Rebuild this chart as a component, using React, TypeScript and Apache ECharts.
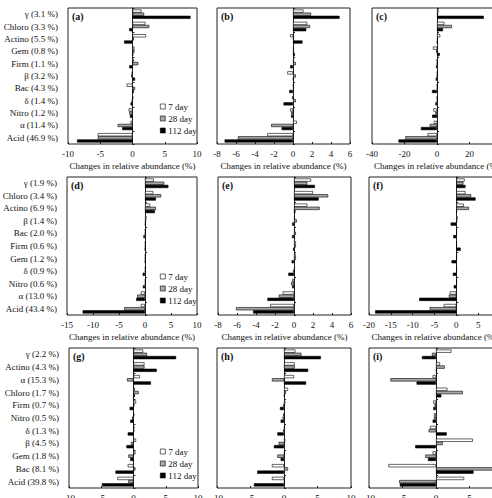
import React, { useEffect, useRef } from 'react';
import * as echarts from 'echarts';

const row1Cats = ['γ (3.1 %)', 'Chloro (3.3 %)', 'Actino (5.5 %)', 'Gem (0.8 %)', 'Firm (1.1 %)', 'β (3.2 %)', 'Bac (4.3 %)', 'δ (1.4 %)', 'Nitro (1.2 %)', 'α (11.4 %)', 'Acid (46.9 %)'];
const row2Cats = ['γ (1.9 %)', 'Chloro (3.4 %)', 'Actino (6.9 %)', 'β (1.4 %)', 'Bac (2.0 %)', 'Firm (0.6 %)', 'Gem (1.2 %)', 'δ (0.9 %)', 'Nitro (0.6 %)', 'α (13.0 %)', 'Acid (43.4 %)'];
const row3Cats = ['γ (2.2 %)', 'Actino (4.3 %)', 'α (15.3 %)', 'Chloro (1.7 %)', 'Firm (0.7 %)', 'Nitro (0.5 %)', 'δ (1.3 %)', 'β (4.5 %)', 'Gem (1.8 %)', 'Bac (8.1 %)', 'Acid (39.8 %)'];

const seriesNames = ['7 day', '28 day', '112 day'];
const panelLabels = ['(a)', '(b)', '(c)', '(d)', '(e)', '(f)', '(g)', '(h)', '(i)'];
const axisTitle = 'Changes in relative abundance (%)';

// x-axis ranges [min, max, interval]
const xRanges = [
  [-10, 10, 5], [-8, 6, 2], [-40, 40, 20],
  [-15, 10, 5], [-8, 6, 2], [-20, 10, 5],
  [-10, 10, 5], [-10, 10, 5], [-10, 10, 5],
];

// panel (a)
const a7 = [1.4, 2.0, 2.1, 0.3, 0.2, -0.1, -0.9, 0.1, -0.6, -0.3, -5.4];
const a28 = [1.8, 2.6, 0.2, 0.3, 0.9, -0.2, 0.4, -0.1, -0.5, -2.3, -5.4];
const a112 = [9.0, -0.5, -1.3, 0.1, -0.5, 0.4, 0.2, -0.3, -0.4, -1.6, -8.6];
// panel (b)
const b7 = [1.1, 1.5, -0.3, 0.1, 0.1, -0.6, 0.05, -0.1, -0.3, 0.4, -2.7];
const b28 = [1.9, 1.8, 0.1, 0.1, 0.3, 0.3, 0.1, 0.3, -0.2, -2.3, -5.8];
const b112 = [4.9, 1.4, 1.0, 0.2, -0.3, 0.05, -0.4, -1.0, -0.2, -1.2, -7.2];
// panel (c)
const c7 = [1.0, 4.5, 2.0, -2.5, 0.2, 0.3, 0.2, 0.2, -2.3, -2.0, -5.8];
const c28 = [0.5, 9.2, 0.5, -0.5, 0.2, 0.2, 0.3, 0.2, -1.0, -4.5, -19.5];
const c112 = [28.8, 3.7, 0.2, 1.7, -0.6, -0.8, -3.1, -1.0, -3.0, -9.9, -23.7];
// panel (d)
const d7 = [1.7, 1.6, 1.0, 0.3, 0.1, 0.1, 0.1, 0.1, 0.1, -0.8, -0.8];
const d28 = [3.7, 3.1, 2.1, 0.2, 0.1, 0.1, 0.1, 0.1, 0.1, -1.5, -4.0];
const d112 = [4.5, 2.1, 1.9, 0.1, -0.3, 0.05, 0.05, -0.45, -0.4, -1.7, -12.0];
// panel (e)
const e7 = [1.8, 2.0, 1.4, 0.1, 0.1, 0.2, 0.2, 0.1, -0.2, -1.2, -2.5];
const e28 = [1.4, 3.6, 2.7, 0.3, 0.2, 0.2, 0.2, -0.1, -0.3, -1.6, -6.1];
const e112 = [2.2, 2.6, 0.15, -0.2, -0.2, -0.1, -0.25, -0.6, -0.2, -2.8, -4.3];
// panel (f)
const f7 = [1.9, 2.1, 1.7, 0.3, 0.1, 0.1, 0.1, 0.1, 0.1, -1.5, -2.9];
const f28 = [1.6, 3.4, 2.9, 0.2, 0.1, 0.1, 0.1, 0.1, 0.1, -1.7, -6.1];
const f112 = [2.1, 4.4, 0.1, -1.3, -0.7, 1.0, -1.1, -0.8, -0.6, -8.5, -18.6];
// panel (g)
const g7 = [1.5, 1.7, 1.0, 0.2, 0.4, 0.1, 0.1, 0.4, 0.3, -0.9, -2.5];
const g28 = [2.1, 1.7, -1.0, 0.8, 0.1, -0.2, 0.1, -0.4, -0.8, 0.3, -0.8];
const g112 = [6.6, 3.6, 2.7, 0.2, -0.6, -0.5, -0.9, -1.1, -0.5, -2.8, -4.9];
// panel (h)
const h7 = [1.7, 1.6, 1.5, 0.6, 0.2, -0.1, 0.1, 0.2, 0.1, -1.8, -1.8];
const h28 = [2.6, 1.6, -1.8, 0.3, -0.1, -0.2, -0.1, -0.8, -1.0, 0.6, 0.1];
const h112 = [5.5, 3.6, 3.3, 0.1, -0.6, -0.5, -1.0, -1.5, -0.5, -4.0, -4.5];
// panel (i)
const i7 = [2.3, 0.6, -0.5, 1.7, -0.4, -0.3, -0.9, 5.5, -0.5, -7.1, 4.2];
const i28 = [-0.6, 1.3, -6.8, 4.0, -0.2, -0.3, -1.1, 1.0, -1.6, 9.5, -5.5];
const i112 = [-2.1, 0.1, -2.9, 0.8, -0.4, -0.5, 1.6, -3.1, -1.2, 5.6, -5.4];

const panelData = [
  [a7, a28, a112], [b7, b28, b112], [c7, c28, c112],
  [d7, d28, d112], [e7, e28, e112], [f7, f28, f112],
  [g7, g28, g112], [h7, h28, h112], [i7, i28, i112],
];
const rowCats = [row1Cats, row2Cats, row3Cats];

// layout: [left, top, width, height]
const gridBoxes = [
  [68, 8, 129, 136], [217, 8, 133, 136], [372, 8, 130, 136],
  [67, 177, 130, 138], [218, 177, 133, 138], [369, 177, 131, 138],
  [69, 348, 129, 140], [217, 348, 134, 140], [369, 348, 134, 140],
];
const legendPos = [[160, 102], [160, 272], [160, 447]];

const FONT = 'Liberation Serif';
const barColors = ['#ffffff', '#a8a8a8', '#000000'];

export default function App() {
  const ref = useRef<HTMLDivElement>(null);
  useEffect(() => {
    if (!ref.current) return;
    const chart = echarts.init(ref.current, undefined, { renderer: 'svg' });
    const grid: any[] = [];
    const xAxis: any[] = [];
    const yAxis: any[] = [];
    const series: any[] = [];
    const graphic: any[] = [];
    gridBoxes.forEach((b, p) => {
      const row = Math.floor(p / 3);
      const col = p % 3;
      const cats = rowCats[row];
      grid.push({
        left: b[0], top: b[1], width: b[2], height: b[3],
        outerBoundsMode: 'none', containLabel: false,
        show: true, borderColor: '#222', borderWidth: 1, backgroundColor: 'transparent',
      });
      const r = xRanges[p];
      xAxis.push({
        type: 'value', gridIndex: p, min: r[0], max: r[1], interval: r[2],
        name: axisTitle, nameLocation: 'middle', nameGap: 17,
        nameTextStyle: { fontSize: 9, fontFamily: FONT, color: '#111' },
        axisLine: { onZero: false, lineStyle: { color: '#222' } },
        axisTick: { show: true, inside: true, length: 2, lineStyle: { color: '#222' } },
        axisLabel: { fontSize: 9, fontFamily: FONT, color: '#111', margin: 5 },
        splitLine: { show: false },
      });
      const zeroAxisIndex = yAxis.length;
      yAxis.push({
        type: 'category', gridIndex: p, data: cats, inverse: true, position: 'right',
        axisLine: { onZero: true, lineStyle: { color: '#222', width: 1 } },
        axisTick: { show: true, length: 2, lineStyle: { color: '#222' } },
        axisLabel: { show: false },
      });
      if (col === 0) {
        yAxis.push({
          type: 'category', gridIndex: p, data: cats, inverse: true, position: 'left',
          axisLine: { show: false, onZero: false },
          axisTick: { show: false },
          axisLabel: { show: true, interval: 0, fontSize: 9, fontFamily: FONT, color: '#111', margin: 10 },
        });
      }
      panelData[p].forEach((vals, s) => {
        series.push({
          type: 'bar', name: seriesNames[s], xAxisIndex: p, yAxisIndex: zeroAxisIndex,
          data: vals, barGap: '0%', barCategoryGap: '24%',
          itemStyle: { color: barColors[s], borderColor: '#000', borderWidth: 0.6 },
        });
      });
      graphic.push({
        type: 'text', left: b[0] + 4, top: b[1] + 3,
        style: { text: panelLabels[p], fontSize: 10, fontFamily: FONT, fontWeight: 'bold', fill: '#111' },
      });
    });
    const legend = legendPos.map((lp) => ({
      left: lp[0], top: lp[1], orient: 'vertical', itemWidth: 5, itemHeight: 5, itemGap: 3,
      icon: 'rect', data: seriesNames, padding: 0,
      itemStyle: { borderColor: '#000', borderWidth: 0.6 },
      textStyle: { fontSize: 9, fontFamily: FONT, color: '#111', padding: [0, 0, 0, -2] },
      selectedMode: false,
    }));
    chart.setOption({
      animation: false,
      backgroundColor: '#ffffff',
      grid, xAxis, yAxis, series, legend, graphic,
    });
    return () => chart.dispose();
  }, []);
  return <div ref={ref} style={{ position: 'fixed', left: 0, top: 0, width: 492, height: 498 }} />;
}
